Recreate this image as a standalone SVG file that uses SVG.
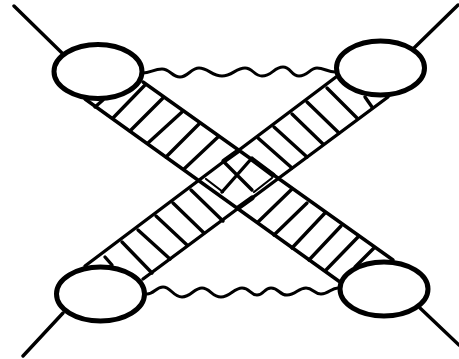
<svg xmlns="http://www.w3.org/2000/svg" width="459" height="359" viewBox="0 0 459 359">
<style>
.l{fill:none;stroke:#000;stroke-width:3.4;stroke-linecap:round}
.n{stroke-width:2.2}
.h{stroke-width:5}
.w{fill:none;stroke:#000;stroke-width:3;stroke-linecap:round}
.e{fill:#fff;stroke:#000;stroke-width:5}
</style>
<rect width="459" height="359" fill="#fff"/>
<g id="connectors">
<path class="l" d="M14 6L62 53M458 5L414 48M420 308L459 345M63 313L23 356"/>
<path class="w" d="M143 73C150 73 154 69 162 69C170 69 172 77 180 77C188 77 191 68 199 68C208 68 212 76 222 76C232 76 236 68 245 68C253 68 254 76 262 76C272 76 274 67 283 67C291 67 291 76 299 76C308 76 310 68 317 68C324 68 328 72 335 72"/>
<path class="w" d="M147 294C154 294 156 287 163 287C171 287 173 297 182 297C191 297 194 288 202 288C210 288 212 297 221 297C230 297 234 288 242 288C250 288 250 295 257 295C264 295 264 288 271 288C279 288 279 295 287 295C296 295 298 288 306 288C313 288 314 294 321 294C329 294 331 288 338 288"/>
<path class="l" d="M143 82L393 260M85 99L340 282M85 266L336 77M143 279L388 97"/>
<path class="l" d="M95 107L103 100M113 118L145 85M130 131L163 98M148 143L182 112M166 157L199 124M184 169L218 137M258 222L292 189M274 235L307 203M292 248L325 213M309 260L341 226M326 270L358 237M355 267L374 248"/>
<path class="l" d="M105 257L112 265M122 242L152 273M138 230L170 259M156 216L187 245M173 203L204 233M191 190L223 221M258 138L292 168M274 127L307 157M292 114L323 144M307 102L339 133M327 88L357 118M365 97L372 107"/>
<path class="l" d="M225 163L252 190M252 158L222 192"/>
<path class="l n" d="M206 179L223 192M254 192L272 178"/>
<path class="l h" d="M224 161L238 151M253 160L273 175M238 208L252 198"/>
</g>
<g id="node-tl"><ellipse class="e" cx="98" cy="71.5" rx="44" ry="27"/></g>
<g id="node-tr"><ellipse class="e" cx="380.5" cy="68" rx="44" ry="27"/></g>
<g id="node-br"><ellipse class="e" cx="384" cy="289" rx="44" ry="27"/></g>
<g id="node-bl"><ellipse class="e" cx="100.5" cy="294" rx="44" ry="27"/></g>
</svg>
